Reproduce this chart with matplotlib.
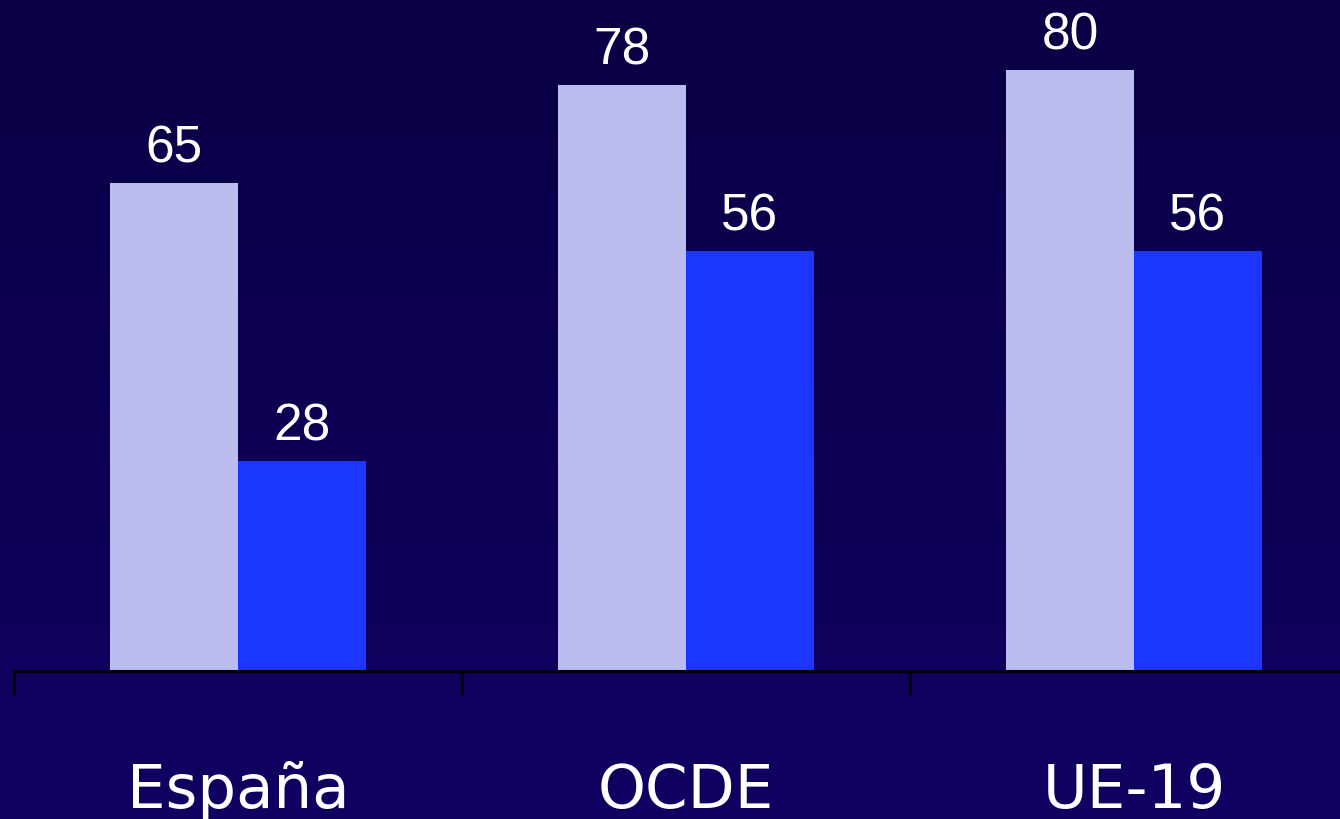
import numpy as np
import matplotlib
matplotlib.use("Agg")
import matplotlib.pyplot as plt

categories = ["España", "OCDE", "UE-19"]
series_a = [65, 78, 80]
series_b = [28, 56, 56]

fig = plt.figure(figsize=(13.4, 8.2), dpi=100)

# gradient background
bg = fig.add_axes([0, 0, 1, 1], zorder=0)
top = np.array([10, 0, 68]) / 255.0
bot = np.array([16, 0, 98]) / 255.0
t = np.linspace(0, 1, 256)[:, None]
grad = top[None, :] * (1 - t) + bot[None, :] * t
bg.imshow(grad[:, None, :], aspect="auto", extent=[0, 1, 0, 1])
bg.set_axis_off()

ax = fig.add_axes([14 / 1340, (820 - 672) / 820, 1344 / 1340, 672 / 820], zorder=1)
ax.patch.set_alpha(0)
x = np.arange(len(categories))
w = 128 / 448
ax.bar(x - w / 2, series_a, width=w, color="#bbbdee", edgecolor="none")
ax.bar(x + w / 2, series_b, width=w, color="#1a36ff", edgecolor="none")
ax.set_xlim(-0.5, 2.5)
ax.set_ylim(0, 89.5)

for xs, vals in ((x - w / 2, series_a), (x + w / 2, series_b)):
    for xi, v in zip(xs, vals):
        ax.annotate(str(v), xy=(xi, v), xytext=(0, 15.5), textcoords="offset points",
                    ha="center", va="baseline", color="white", fontsize=37,
                    family="Liberation Sans")

for xi, c in zip(x, categories):
    ax.annotate(c, xy=(xi, 0), xycoords=("data", "axes fraction"), xytext=(0, -98),
                textcoords="offset points", ha="center", va="baseline", color="white",
                fontsize=44, family="DejaVu Sans")

for s in ("top", "right", "left"):
    ax.spines[s].set_visible(False)
ax.spines["bottom"].set_color("black")
ax.spines["bottom"].set_linewidth(2.2)
ax.set_yticks([])
ax.set_xticks([])
ax.set_xticks([-0.5, 0.5, 1.5, 2.5], minor=True)
ax.tick_params(axis="x", which="minor", length=17, width=2, color="black", labelbottom=False)

fig.savefig("out.png", dpi=100)
